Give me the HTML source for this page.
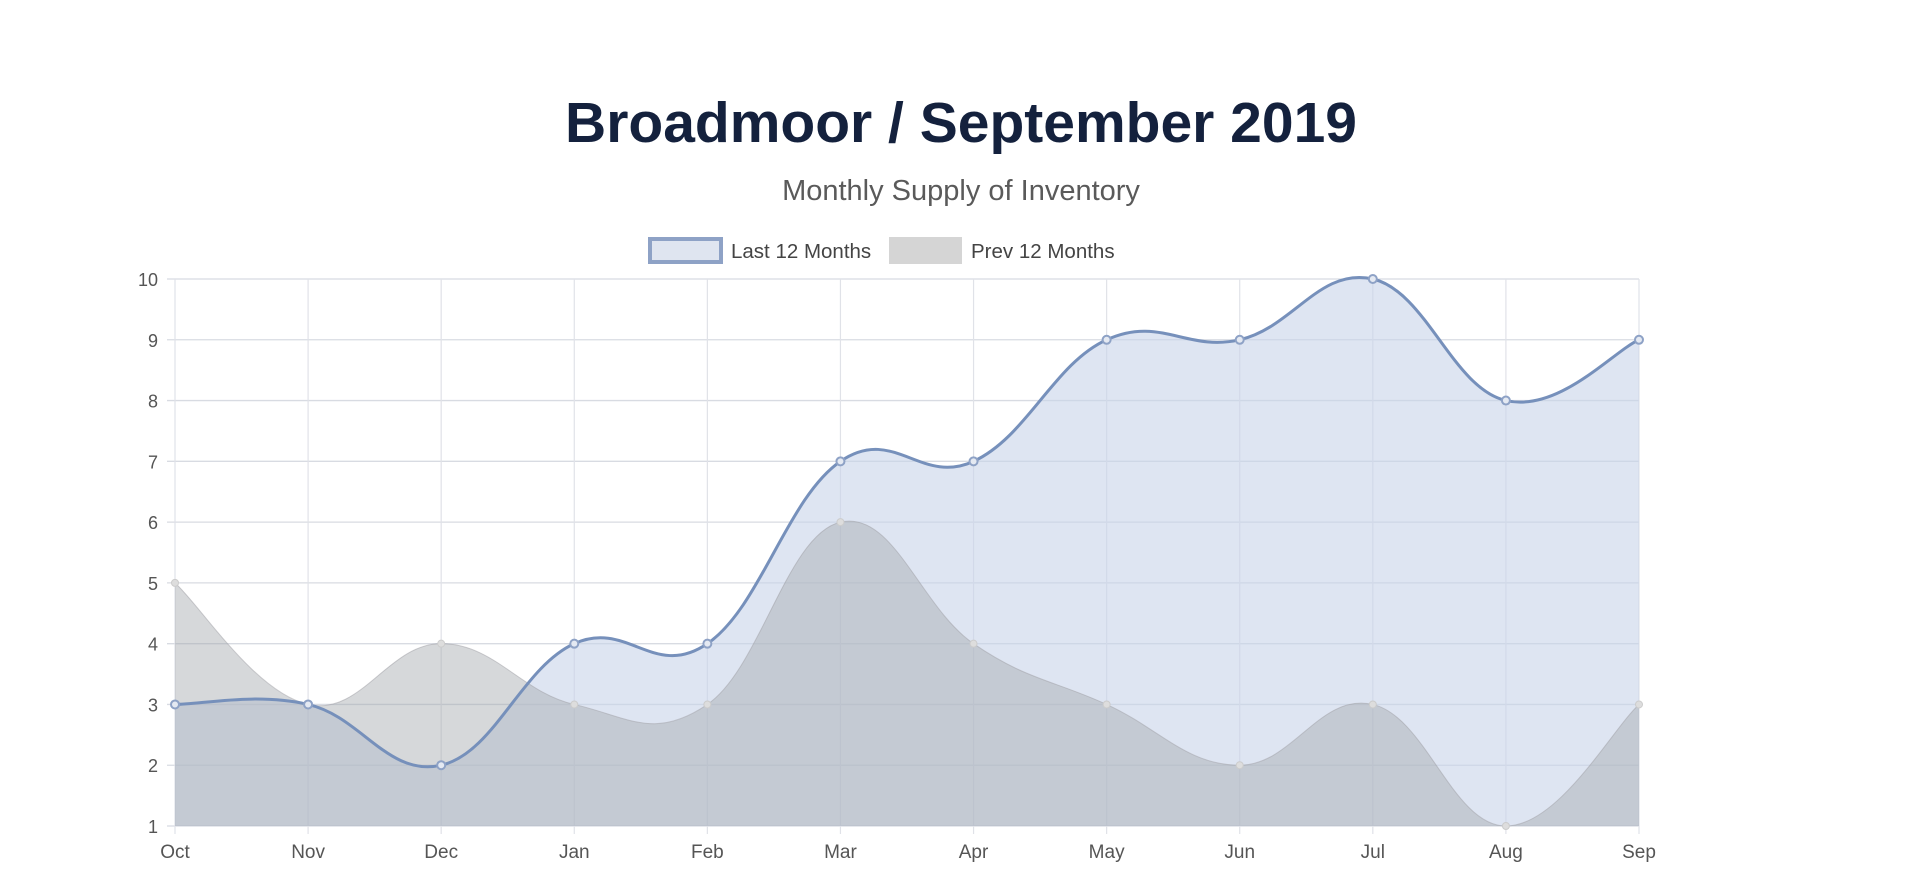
<!DOCTYPE html>
<html><head><meta charset="utf-8"><style>
html,body{margin:0;padding:0;background:#fff;width:1920px;height:879px;overflow:hidden}
svg{display:block}
</style></head><body>
<svg width="1920" height="879" id="chart">
<text x="961" y="142" text-anchor="middle" font-family="Liberation Sans, sans-serif" font-weight="bold" font-size="57" fill="#14213d">Broadmoor / September 2019</text>
<text x="961" y="200" text-anchor="middle" font-family="Liberation Sans, sans-serif" font-size="29" fill="#5a5a5a">Monthly Supply of Inventory</text>
<g>
<g>
<rect x="650" y="239" width="71" height="23" fill="#dfe5f0" stroke="#8ea2c6" stroke-width="4"/>
<text x="731" y="258" font-family="Liberation Sans, sans-serif" font-size="20.5" fill="#444">Last 12 Months</text></g>
<g>
<rect x="889" y="237" width="73" height="27" fill="#d5d5d5"/>
<text x="971" y="258" font-family="Liberation Sans, sans-serif" font-size="20.5" fill="#444">Prev 12 Months</text></g>
</g>
<g id="grid"></g><g id="plot"></g><g id="axes"></g>
</svg>
<script>
const months=["Oct","Nov","Dec","Jan","Feb","Mar","Apr","May","Jun","Jul","Aug","Sep"];
const lastValues=[3,3,2,4,4,7,7,9,9,10,8,9];
const prevValues=[5,3,4,3,3,6,4,3,2,3,1,3];
const yTicks=[1,2,3,4,5,6,7,8,9,10];
const NS="http://www.w3.org/2000/svg";
const X0=175,X1=1639,Y0=826,Y1=279,YMIN=1,YMAX=10;
const xs=i=>X0+(X1-X0)*i/(months.length-1);
const ys=v=>Y0-(Y0-Y1)*(v-YMIN)/(YMAX-YMIN);
function mk(t,a,p){const e=document.createElementNS(NS,t);for(const k in a)e.setAttribute(k,a[k]);(p||document.getElementById('plot')).appendChild(e);return e;}
const grid=document.getElementById('grid'),axes=document.getElementById('axes');
yTicks.forEach(v=>{
 const l=mk('line',{x1:X0-8,x2:X1,y1:ys(v),y2:ys(v),stroke:'#d8dbe2','stroke-width':1.3},grid);
 
 
 const t=mk('text',{x:X0-17,y:ys(v)+7,'text-anchor':'end','font-family':'Liberation Sans, sans-serif','font-size':18,fill:'#555'},axes);
 t.textContent=v;
 
 
});
months.forEach((m,i)=>{
 const l=mk('line',{x1:xs(i),x2:xs(i),y1:Y1,y2:Y0+8,stroke:'#e0e2e8','stroke-width':1.2},grid);
 
 
 const t=mk('text',{x:xs(i),y:Y0+32,'text-anchor':'middle','font-family':'Liberation Sans, sans-serif','font-size':19,fill:'#555'},axes);
 t.textContent=m;
 
 
});
function pathFor(vals){
 const p=vals.map((v,i)=>[xs(i),ys(v)]);const T=0.4;
 let d=`M${p[0][0]},${p[0][1]}`;
 for(let i=0;i<p.length-1;i++){
  const p0=p[Math.max(0,i-1)],p1=p[i],p2=p[i+1],p3=p[Math.min(p.length-1,i+2)];
  const c1=[p1[0]+(p2[0]-p0[0])*T/2,p1[1]+(p2[1]-p0[1])*T/2];
  const c2=[p2[0]-(p3[0]-p1[0])*T/2,p2[1]-(p3[1]-p1[1])*T/2];
  d+=` C${c1[0]},${c1[1]} ${c2[0]},${c2[1]} ${p2[0]},${p2[1]}`;
 }
 return d;
}
const lp=pathFor(lastValues),pp=pathFor(prevValues);
const close=` L${X1},${Y0} L${X0},${Y0} Z`;
let e=mk('path',{d:lp+close,fill:'rgba(200,212,234,0.6)'});


e=mk('path',{d:pp+close,fill:'rgba(165,168,172,0.45)'});


e=mk('path',{d:pp,fill:'none',stroke:'rgba(160,160,165,0.5)','stroke-width':1});


prevValues.forEach((v,i)=>{
 const c=mk('circle',{cx:xs(i),cy:ys(v),r:3.5,fill:'#ddd',stroke:'#ccc'});
 
 
});
e=mk('path',{d:lp,fill:'none',stroke:'#7690bb','stroke-width':3});


lastValues.forEach((v,i)=>{
 const c=mk('circle',{cx:xs(i),cy:ys(v),r:4,fill:'#e4e9f2',stroke:'#8ea2c6','stroke-width':2});
 
 
});
</script>
</body></html>
